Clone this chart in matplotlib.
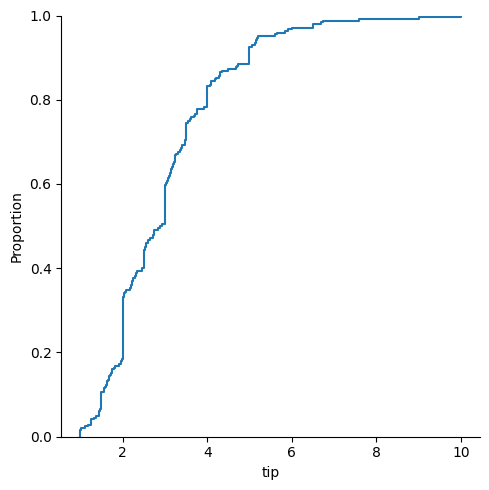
import numpy as np
import pandas as pd
import seaborn as sns
import matplotlib
matplotlib.use("Agg")
import matplotlib.pyplot as plt

# tip values (tips dataset)
tip = [1.01, 1.66, 3.5, 3.31, 3.61, 4.71, 2.0, 3.12, 1.96, 3.23, 1.71, 5.0, 1.57, 3.0, 3.02, 3.92,
       1.67, 3.71, 3.5, 3.35, 4.08, 2.75, 2.23, 7.58, 3.18, 2.34, 2.0, 2.0, 4.3, 3.0, 1.45, 2.5,
       3.0, 2.45, 3.27, 3.6, 2.0, 3.07, 2.31, 5.0, 2.24, 2.54, 3.06, 1.32, 5.6, 3.0, 5.0, 6.0,
       2.05, 3.0, 2.5, 2.6, 5.2, 1.56, 4.34, 3.51, 3.0, 1.5, 1.76, 6.73, 3.21, 2.0, 1.98, 3.76,
       2.64, 3.15, 2.47, 1.0, 2.01, 2.09, 1.97, 3.0, 3.14, 5.0, 2.2, 1.25, 3.08, 4.0, 3.0, 2.71,
       3.0, 3.4, 1.83, 5.0, 2.03, 5.17, 2.0, 4.0, 5.85, 3.0, 3.0, 3.5, 1.0, 4.3, 3.25, 4.73,
       4.0, 1.5, 3.0, 1.5, 2.5, 3.0, 2.5, 3.48, 4.08, 1.64, 4.06, 4.29, 3.76, 4.0, 3.0, 1.0,
       4.0, 2.55, 4.0, 3.5, 5.07, 1.5, 1.8, 2.92, 2.31, 1.68, 2.5, 2.0, 2.52, 4.2, 1.48, 2.0,
       2.0, 2.18, 1.5, 2.83, 1.5, 2.0, 3.25, 1.25, 2.0, 2.0, 2.0, 2.75, 3.5, 6.7, 5.0, 5.0,
       2.3, 1.5, 1.36, 1.63, 1.73, 2.0, 2.5, 2.0, 2.74, 2.0, 2.0, 5.14, 5.0, 3.75, 2.61, 2.0,
       3.5, 2.5, 2.0, 2.0, 3.0, 3.48, 2.24, 4.5, 1.61, 2.0, 10.0, 3.16, 5.15, 3.18, 4.0, 3.11,
       2.0, 2.0, 4.0, 3.55, 3.68, 5.65, 3.5, 6.5, 3.0, 5.0, 3.5, 2.0, 3.5, 4.0, 1.5, 4.19,
       2.56, 2.02, 4.0, 1.44, 2.0, 5.0, 2.0, 2.0, 4.0, 2.01, 2.0, 2.5, 4.0, 3.23, 3.41, 3.0,
       2.03, 2.23, 2.0, 5.16, 9.0, 2.5, 6.5, 1.1, 3.0, 1.5, 1.44, 3.09, 2.2, 3.48, 1.92, 3.0,
       1.58, 2.5, 2.0, 3.0, 2.72, 2.88, 2.0, 3.0, 3.39, 1.47, 3.0, 1.25, 1.0, 1.17, 4.67, 5.92,
       2.0, 2.0, 1.75, 3.0]

df = pd.DataFrame({"tip": tip})

g = sns.displot(data=df, x="tip", kind="ecdf", height=5, aspect=1)
g.savefig("out.png", dpi=100)
